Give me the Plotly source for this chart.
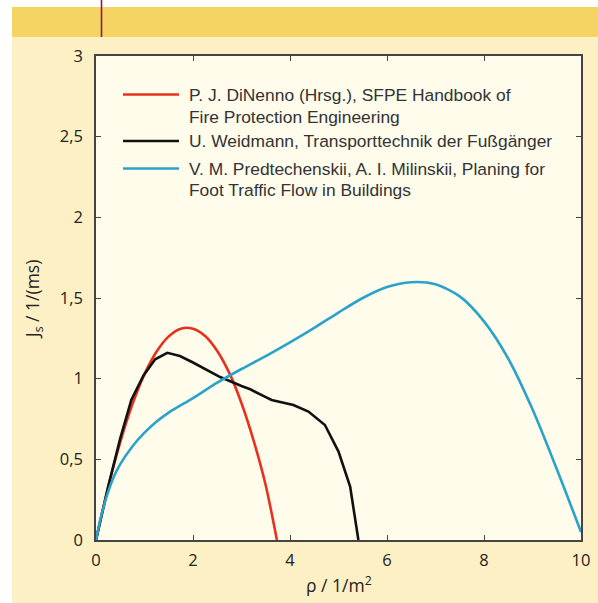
import plotly.graph_objects as go

# ---------------- data ----------------
rho_dinenno = [0.0, 0.25, 0.5, 0.75, 1.0, 1.25, 1.5, 1.75, 2.0, 2.25, 2.5, 2.75, 3.0, 3.25, 3.5, 3.73]
js_dinenno = [0.0, 0.327, 0.607, 0.841, 1.028, 1.168, 1.262, 1.310, 1.310, 1.265, 1.172, 1.034, 0.848, 0.616, 0.338, 0.0]

rho_weidmann = [0.0, 0.25, 0.5, 0.73, 0.98, 1.22, 1.47, 1.73, 2.0, 2.56, 3.0, 3.18, 3.48, 3.62, 4.07, 4.38, 4.72, 5.0, 5.24, 5.41]
js_weidmann = [0.0, 0.33, 0.63, 0.87, 1.02, 1.12, 1.16, 1.14, 1.10, 1.01, 0.955, 0.934, 0.889, 0.868, 0.837, 0.796, 0.713, 0.548, 0.331, 0.0]

rho_predtech = [0.0, 0.1, 0.22, 0.35, 0.5, 0.75, 1.0, 1.25, 1.5, 2.0, 2.5, 3.0, 3.5, 4.0, 4.5, 5.0, 5.5, 6.0, 6.5, 7.0, 7.5, 8.0, 8.5, 9.0, 9.5, 10.0]
js_predtech = [0.0, 0.14, 0.27, 0.38, 0.47, 0.58, 0.665, 0.735, 0.79, 0.88, 0.975, 1.06, 1.14, 1.225, 1.315, 1.41, 1.50, 1.568, 1.598, 1.585, 1.51, 1.355, 1.124, 0.81, 0.44, 0.05]

series_names = [
    "P. J. DiNenno (Hrsg.), SFPE Handbook of Fire Protection Engineering",
    "U. Weidmann, Transporttechnik der Fußgänger",
    "V. M. Predtechenskii, A. I. Milinskii, Planing for Foot Traffic Flow in Buildings",
]
legend_lines = [
    ["P. J. DiNenno (Hrsg.), SFPE Handbook of", "Fire Protection Engineering"],
    ["U. Weidmann, Transporttechnik der Fußgänger"],
    ["V. M. Predtechenskii, A. I. Milinskii, Planing for", "Foot Traffic Flow in Buildings"],
]
series_colors = ["#E8301F", "#111111", "#2AA3CB"]
series_shapes = ["spline", "linear", "spline"]

x_tickvals = [0, 2, 4, 6, 8, 10]
y_tickvals = [0, 0.5, 1, 1.5, 2, 2.5, 3]

# ---------------- layout geometry (pixels) ----------------
W, H = 598, 603
L, R, T, B = 96, 581, 56, 540   # plot frame


def px(x):
    return (x - L) / (R - L)


def py(y):
    return (B - y) / (B - T)


fig = go.Figure()
for xs, ys, name, col, shp in zip([rho_dinenno, rho_weidmann, rho_predtech],
                                  [js_dinenno, js_weidmann, js_predtech],
                                  series_names, series_colors, series_shapes):
    line = dict(color=col, width=2.6, shape=shp)
    if shp == "spline":
        line["smoothing"] = 0.8
    fig.add_trace(go.Scatter(x=xs, y=ys, mode="lines", name=name, line=line,
                             showlegend=False, hoverinfo="x+y+name"))

tick_font = dict(family="Open Sans, Noto Sans, sans-serif", size=16.5, color="#222222")
title_font = dict(family="Open Sans, Noto Sans, sans-serif", size=17.5, color="#222222")

shapes = [
    # white margins
    dict(type="rect", xref="paper", yref="paper", x0=px(-5), x1=px(12), y0=py(H + 5), y1=py(-5),
         fillcolor="white", line=dict(width=0), layer="below"),
    dict(type="rect", xref="paper", yref="paper", x0=px(-5), x1=px(W + 5), y0=py(7), y1=py(-5),
         fillcolor="white", line=dict(width=0), layer="below"),
    # yellow band
    dict(type="rect", xref="paper", yref="paper", x0=px(12), x1=px(W + 5), y0=py(37), y1=py(7),
         fillcolor="#F5D463", line=dict(width=0), layer="below"),
    # dark red vertical line
    dict(type="line", xref="paper", yref="paper", x0=px(101.5), x1=px(101.5), y0=py(37), y1=py(-5),
         line=dict(color="#8E1B3F", width=1.6), layer="below"),
]

annotations = []
# manual legend
legend_y = [[94.5, 116.5], [141], [168.5, 190]]
for lines, ys, col in zip(legend_lines, legend_y, series_colors):
    shapes.append(dict(type="line", xref="paper", yref="paper", x0=px(123), x1=px(179),
                       y0=py(ys[0]), y1=py(ys[0]), line=dict(color=col, width=2.6)))
    for txt, yy in zip(lines, ys):
        annotations.append(dict(xref="paper", yref="paper", x=px(187), y=py(yy), text=txt,
                                showarrow=False, xanchor="left", yanchor="middle",
                                font=dict(family="Liberation Sans, Arial, sans-serif", size=17.4,
                                          color="#333333")))

# axis titles
annotations.append(dict(xref="paper", yref="paper", x=px(339), y=py(584),
                        text="ρ / 1/m<sup>2</sup>", showarrow=False,
                        xanchor="center", yanchor="middle", font=title_font))
annotations.append(dict(xref="paper", yref="paper", x=px(33), y=py(299),
                        text="J<sub>s</sub> / 1/(ms)", showarrow=False, textangle=-90,
                        xanchor="center", yanchor="middle", font=title_font))

fig.update_layout(
    template="none",
    width=W, height=H, autosize=False,
    margin=dict(l=L, r=W - R, t=T, b=H - B, pad=0, autoexpand=False),
    paper_bgcolor="#FEF0C5",
    plot_bgcolor="#FFFCEC",
    separators=",.",
    shapes=shapes,
    annotations=annotations,
    showlegend=False,
)
axis_common = dict(showgrid=False, zeroline=False, showline=True, linecolor="#444444", linewidth=1.5,
                   mirror="ticks", ticks="inside", ticklen=5, tickwidth=1.3, tickcolor="#444444",
                   tickfont=tick_font, automargin=False)
fig.update_xaxes(range=[0, 10], tickvals=x_tickvals, ticklabelstandoff=4, **axis_common)
fig.update_yaxes(range=[0, 3], tickvals=y_tickvals, ticklabelstandoff=8, **axis_common)

fig.write_html("out.html", config={"displayModeBar": False},
               post_script="document.body.style.margin='0';document.body.style.overflow='hidden';")
